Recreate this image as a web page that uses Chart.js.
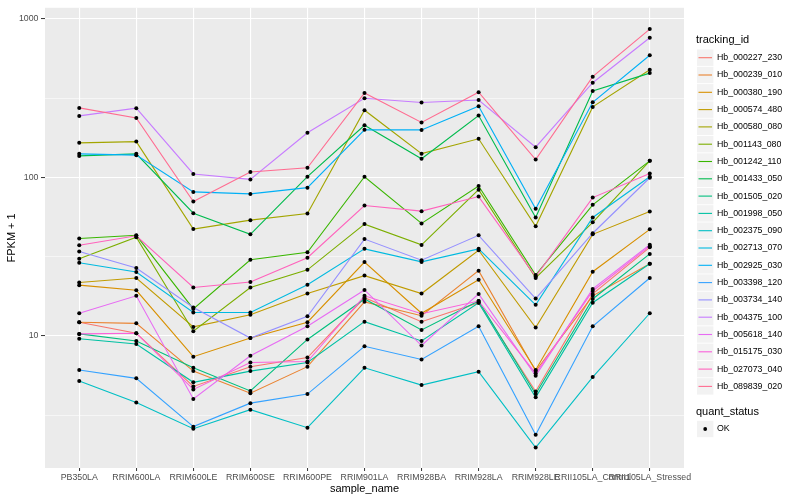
<!DOCTYPE html>
<html>
<head>
<meta charset="utf-8">
<script src="https://cdn.jsdelivr.net/npm/chart.js@4"></script>
<style>
  body { margin: 0; background: #fff; }
  #wrap { width: 800px; height: 500px; }
</style>
</head>
<body>
<div id="wrap"><canvas id="grafico" width="800" height="500"></canvas></div>
<script>

// categorias (eixo x)
const categories = [
  "PB350LA", "RRIM600LA", "RRIM600LE", "RRIM600SE", "RRIM600PE",
  "RRIM901LA", "RRIM928BA", "RRIM928LA", "RRIM928LE",
  "RRII105LA_Control", "RRII105LA_Stressed"
];

const trackingIds = [
  "Hb_000227_230", "Hb_000239_010", "Hb_000380_190", "Hb_000574_480",
  "Hb_000580_080", "Hb_001143_080", "Hb_001242_110", "Hb_001433_050",
  "Hb_001505_020", "Hb_001998_050", "Hb_002375_090", "Hb_002713_070",
  "Hb_002925_030", "Hb_003398_120", "Hb_003734_140", "Hb_004375_100",
  "Hb_005618_140", "Hb_015175_030", "Hb_027073_040", "Hb_089839_020"
];

// paleta hue do ggplot (20 niveis)
const seriesColors = [
  "#F8766D", "#EA8331", "#D89000", "#C09B00", "#A3A500",
  "#7CAE00", "#39B600", "#00BB4E", "#00BF7D", "#00C1A3",
  "#00BFC4", "#00BAE0", "#00B0F6", "#35A2FF", "#9590FF",
  "#C77CFF", "#E76BF3", "#FA62DB", "#FF62BC", "#FF6C91"
];

// FPKM + 1
const hb_000227_230 = [12.2, 10.4, 4.8, 6.4, 7.3, 17.4, 12.3, 16.2, 4.46, 18.4, 36.2];
const hb_000239_010 = [12.2, 12.0, 6.0, 4.35, 6.4, 16.4, 13.4, 25.8, 6.0, 17.9, 28.5];
const hb_000380_190 = [20.9, 19.4, 7.4, 9.7, 12.2, 29.2, 13.9, 22.6, 6.1, 25.4, 47.0];
const hb_000574_480 = [21.7, 23.2, 11.4, 13.6, 18.5, 24.0, 18.5, 34.7, 11.3, 43.7, 60.9];
const hb_000580_080 = [165, 168, 47.2, 53.7, 59.2, 265, 141, 175, 49.1, 278, 477];
const hb_001143_080 = [30.7, 41.9, 10.7, 20.2, 26.1, 50.7, 37.5, 83.6, 23.2, 52.0, 127];
const hb_001242_110 = [41.1, 43.1, 14.8, 30.2, 33.7, 100.9, 51.2, 88.2, 24.2, 67.1, 127];
const hb_001433_050 = [136.5, 140.6, 59.4, 43.7, 100.9, 213, 131, 245, 55.8, 350, 454];
const hb_001505_020 = [10.3, 9.3, 6.3, 4.5, 9.5, 17.1, 10.9, 16.6, 4.3, 17.1, 32.9];
const hb_001998_050 = [9.6, 8.9, 5.1, 6.0, 6.8, 12.3, 9.3, 16.2, 4.1, 16.2, 28.5];
const hb_002375_090 = [5.2, 3.8, 2.6, 3.43, 2.64, 6.3, 4.9, 5.95, 1.98, 5.5, 13.9];
const hb_002713_070 = [28.9, 25.3, 14.05, 14.05, 21.0, 35.4, 29.3, 35.4, 15.7, 55.8, 100.9];
const hb_002925_030 = [140.6, 138, 80.9, 78.6, 86.1, 199.5, 199, 281, 63.3, 297, 588];
const hb_003398_120 = [6.1, 5.4, 2.68, 3.77, 4.3, 8.6, 7.1, 11.5, 2.38, 11.5, 23.2];
const hb_003734_140 = [34.1, 26.8, 15.1, 9.7, 13.3, 40.8, 30.0, 43.1, 17.2, 44.4, 99.4];
const hb_004375_100 = [244, 273, 105, 97, 191, 315, 296, 307, 155, 395, 759];
const hb_005618_140 = [13.9, 17.9, 4.0, 7.5, 11.5, 19.5, 8.7, 18.4, 5.6, 19.8, 37.6];
const hb_015175_030 = [10.3, 10.4, 4.6, 6.8, 6.9, 17.9, 13.8, 16.6, 5.8, 19.2, 36.8];
const hb_027073_040 = [37.3, 42.8, 20.2, 21.9, 31.1, 66.4, 61.2, 75.6, 23.7, 74.5, 105.8];
const hb_089839_020 = [274, 237, 70.3, 108, 114.8, 340, 222, 344, 129.5, 431, 860];

const seriesValues = [
  hb_000227_230, hb_000239_010, hb_000380_190, hb_000574_480, hb_000580_080,
  hb_001143_080, hb_001242_110, hb_001433_050, hb_001505_020, hb_001998_050,
  hb_002375_090, hb_002713_070, hb_002925_030, hb_003398_120, hb_003734_140,
  hb_004375_100, hb_005618_140, hb_015175_030, hb_027073_040, hb_089839_020
];

// eixo y (log): linhas de grade e rotulos
const yGridValues = [3.1623, 10, 31.623, 100, 316.23, 1000];
const yTickLabels = ["10", "100", "1000"];

const FONTE = '"Liberation Sans", Arial, sans-serif';

function pontos(valores){
  return valores.map((v, i) => ({ x: i, y: v }));
}

const datasets = [];

// linhas (ultima serie por cima, como no ggplot)
seriesValues.forEach((valores, i) => {
  datasets.push({
    label: trackingIds[i],
    data: pontos(valores),
    borderColor: seriesColors[i],
    borderWidth: 1.1,
    pointRadius: 0,
    fill: false,
    tension: 0,
    order: 1 + (seriesValues.length - 1 - i)
  });
});

// pontos pretos por cima de todas as linhas
seriesValues.forEach((valores, i) => {
  datasets.push({
    label: "pts_" + trackingIds[i],
    data: pontos(valores),
    showLine: false,
    pointRadius: 2,
    pointBackgroundColor: "#000",
    pointBorderWidth: 0,
    order: 0
  });
});

const fundoPainel = {
  id: "fundoPainel",
  beforeDraw(chart){
    const a = chart.chartArea;
    const ctx = chart.ctx;
    ctx.save();
    ctx.fillStyle = "#EBEBEB";
    ctx.fillRect(a.left, a.top, a.right - a.left, a.bottom - a.top);
    ctx.restore();
  }
};

const legendaGG = {
  id: "legendaGG",
  afterDraw(chart){
    const ctx = chart.ctx;
    ctx.save();
    ctx.textBaseline = "middle";
    ctx.textAlign = "left";

    ctx.fillStyle = "#000";
    ctx.font = "11px " + FONTE;
    ctx.fillText("tracking_id", 696, 40);

    trackingIds.forEach((nome, i) => {
      const cy = 57.7 + i * 17.3;
      ctx.fillStyle = "#F2F2F2";
      ctx.fillRect(697, cy - 8.2, 16.4, 16.4);
      ctx.strokeStyle = seriesColors[i];
      ctx.lineWidth = 1.1;
      ctx.beginPath();
      ctx.moveTo(698.5, cy);
      ctx.lineTo(712, cy);
      ctx.stroke();
      ctx.fillStyle = "#000";
      ctx.font = "8.8px " + FONTE;
      ctx.fillText(nome, 717, cy);
    });

    ctx.font = "11px " + FONTE;
    ctx.fillText("quant_status", 696, 412);
    ctx.fillStyle = "#F2F2F2";
    ctx.fillRect(697, 429 - 8.2, 16.4, 16.4);
    ctx.fillStyle = "#000";
    ctx.beginPath();
    ctx.arc(705.2, 429, 1.9, 0, Math.PI * 2);
    ctx.fill();
    ctx.font = "8.8px " + FONTE;
    ctx.fillText("OK", 717, 429);

    ctx.restore();
  }
};

new Chart(document.getElementById("grafico"), {
  type: "line",
  data: { datasets: datasets },
  plugins: [fundoPainel, legendaGG],
  options: {
    responsive: false,
    animation: false,
    events: [],
    layout: { padding: { left: 0, right: 116, top: 5, bottom: 0 } },
    plugins: {
      legend: { display: false },
      tooltip: { enabled: false }
    },
    scales: {
      x: {
        type: "linear",
        min: -0.6,
        max: 10.6,
        afterBuildTicks(scale){
          scale.ticks = categories.map((c, i) => ({ value: i }));
        },
        afterFit(scale){ scale.height = 32; },
        border: { display: false },
        grid: {
          color: "#FFFFFF",
          lineWidth: 1.1,
          tickLength: 3,
          tickColor: "#333333",
          tickWidth: 1
        },
        ticks: {
          autoSkip: false,
          maxRotation: 0,
          minRotation: 0,
          padding: 1,
          color: "#4D4D4D",
          font: { family: FONTE, size: 8.8 },
          callback: (v) => categories[v]
        },
        title: {
          display: true,
          text: "sample_name",
          color: "#000",
          font: { family: FONTE, size: 11 },
          padding: { top: 0, bottom: 4 }
        }
      },
      y: {
        type: "logarithmic",
        min: 1.47,
        max: 1172,
        afterBuildTicks(scale){
          scale.ticks = yGridValues.map(v => ({ value: v }));
        },
        afterFit(scale){ scale.width = 45; },
        border: { display: false },
        grid: {
          color: "#FFFFFF",
          lineWidth: (c) => yTickLabels.includes(String(Math.round(c.tick.value))) ? 1.1 : 0.55,
          tickLength: 4,
          tickColor: (c) => yTickLabels.includes(String(Math.round(c.tick.value))) ? "#333333" : "rgba(0,0,0,0)",
          tickWidth: 1
        },
        ticks: {
          padding: 2.5,
          color: "#4D4D4D",
          font: { family: FONTE, size: 8.8 },
          callback: (v) => {
            const s = String(Math.round(v));
            return yTickLabels.includes(s) ? s : "";
          }
        },
        title: {
          display: true,
          text: "FPKM + 1",
          color: "#000",
          font: { family: FONTE, size: 11 },
          padding: { top: 5, bottom: 0 }
        }
      }
    }
  }
});

</script>
</body>
</html>
